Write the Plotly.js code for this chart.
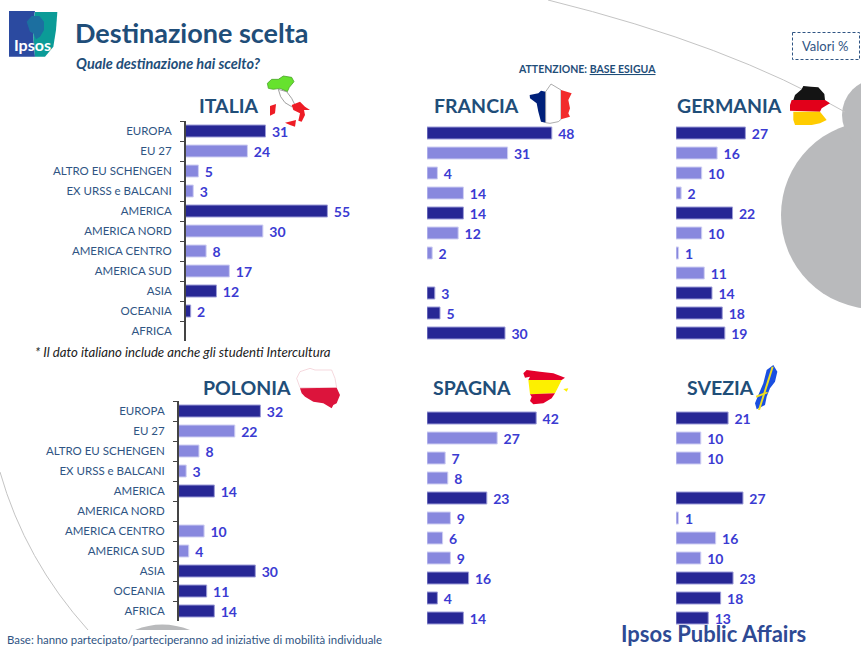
<!DOCTYPE html>
<html><head><meta charset="utf-8">
<script src="https://cdn.plot.ly/plotly-3.0.1.min.js"></script>
<style>html,body{margin:0;padding:0;background:#fff}#c{width:861px;height:646px}</style></head>
<body><div id="c"></div>
<script>
const categories=["EUROPA","EU 27","ALTRO EU SCHENGEN","EX URSS e BALCANI","AMERICA","AMERICA NORD","AMERICA CENTRO","AMERICA SUD","ASIA","OCEANIA","AFRICA"];
const italia=[31,24,5,3,55,30,8,17,12,2,null];
const francia=[48,31,4,14,14,12,2,null,3,5,30];
const germania=[27,16,10,2,22,10,1,11,14,18,19];
const polonia=[32,22,8,3,14,null,10,4,30,11,14];
const spagna=[42,27,7,8,23,9,6,9,16,4,14];
const svezia=[21,10,10,null,27,1,16,10,23,18,13];
const isMain=[true,false,false,false,true,false,false,false,true,true,true];
const DARK='#272795',LIGHT='#8888de',LABEL='#3b3bd2',NAVY='#1f4e79',TXT='#2f5483',FONT='Lato, "Open Sans", sans-serif';
const W=861,H=646;
const panels=[
 {name:'FRANCIA',vals:francia,x0:427,y0:123,scale:2.6,labels:false,tx:476,ty:105},
 {name:'ITALIA',vals:italia,x0:185.5,y0:121,scale:2.58,labels:true,tx:229,ty:105},
 {name:'GERMANIA',vals:germania,x0:676,y0:123,scale:2.57,labels:false,tx:729.5,ty:105},
 {name:'POLONIA',vals:polonia,x0:178.5,y0:401,scale:2.56,labels:true,tx:247,ty:387},
 {name:'SPAGNA',vals:spagna,x0:427,y0:408,scale:2.6,labels:false,tx:472,ty:387},
 {name:'SVEZIA',vals:svezia,x0:676,y0:408,scale:2.48,labels:false,tx:720,ty:387}
];
const traces=[],layout={
 width:W,height:H,margin:{l:0,r:0,t:0,b:0},paper_bgcolor:'#fff',plot_bgcolor:'rgba(0,0,0,0)',showlegend:false,bargap:0.4,
 font:{family:FONT,color:TXT},
 title:{text:'<b>Destinazione scelta</b>',x:75/W,xanchor:'left',xref:'paper',y:1-34/H,yanchor:'middle',yref:'paper',font:{size:27,color:NAVY,family:FONT}},
 annotations:[],shapes:[]
};
panels.forEach((p,i)=>{
 const n=i?String(i+1):'',wd=Math.min(215,W-p.x0),ht=220;
 traces.push({type:'bar',orientation:'h',y:categories,x:p.vals,xaxis:'x'+n,yaxis:'y'+n,
  marker:{color:isMain.map(m=>m?DARK:LIGHT),line:{color:isMain.map(m=>m?'#9d9dd8':'#cfcff3'),width:1}},
  text:p.vals.map(v=>v==null?'':'\u00A0'+v),textposition:'outside',cliponaxis:false,constraintext:'none',textangle:0,
  textfont:{family:FONT,size:14,color:LABEL,weight:700},hoverinfo:'skip'});
 layout['xaxis'+n]={domain:[p.x0/W,(p.x0+wd)/W],range:[0,wd/p.scale],visible:false,fixedrange:true,anchor:'y'+n};
 layout['yaxis'+n]={domain:[1-(p.y0+ht)/H,1-p.y0/H],type:'category',categoryorder:'array',categoryarray:categories,range:[10.5,-0.5],anchor:'x'+n,fixedrange:true,
  showgrid:false,zeroline:false,showticklabels:p.labels,showline:p.labels,linecolor:'#444',linewidth:1.5,ticks:p.labels?'outside':'',tickson:'boundaries',ticklen:4,tickcolor:'#444',tickwidth:1,
  tickfont:{family:FONT,size:11.5,color:TXT},ticklabelstandoff:10};
 layout.annotations.push({text:'<b>'+p.name+'</b>',xref:'paper',yref:'paper',x:p.tx/W,y:1-p.ty/H,showarrow:false,xanchor:'center',yanchor:'middle',font:{size:19.5,color:NAVY,family:FONT}});
});
function note(text,x,y,size,color,anchor,extra){layout.annotations.push(Object.assign({text,xref:'paper',yref:'paper',x:x/W,y:1-y/H,showarrow:false,xanchor:anchor||'left',yanchor:'middle',font:{size,color,family:FONT}},extra||{}));}
note('<b><i>Quale destinazione hai scelto?</i></b>',74,63,14.5,NAVY);
note('<b>ATTENZIONE: <u>BASE ESIGUA</u></b>',587,69,10.5,NAVY,'center');
note('Valori %',825,46,13,TXT,'center');
note('<i>* Il dato italiano include anche gli studenti Intercultura</i>',33,352,13.2,'#222');
note('Base: hanno partecipato/parteciperanno ad iniziative di mobilità individuale',5,639.5,11.4,TXT);
note('<b>Ipsos Public Affairs</b>',713,633,22,'#2e4a94','center');
note('<b>Ipsos</b>',32,44,16,'#fff','center');
// decorative page furniture, in pixel coordinates
const px=x=>x/W,py=y=>1-y/H;
function poly(ox,oy,pts,fill,line,below){layout.shapes.push({type:'path',xref:'paper',yref:'paper',layer:below?'below':'above',
 path:'M'+pts.map(p=>px(ox+p[0]/3)+','+py(oy+p[1]/3)).join('L')+'Z',fillcolor:fill,line:{color:line||fill,width:line?0.7:0}});}
function raw(d,fill,line,w,dash){layout.shapes.push({type:'path',xref:'paper',yref:'paper',layer:'below',path:d,fillcolor:fill||'rgba(0,0,0,0)',line:{color:line||'rgba(0,0,0,0)',width:w||0,dash:dash||'solid'}});}
const pt=(x,y)=>px(x)+','+py(y);
function circle(cx,cy,r,fill){layout.shapes.push({type:'circle',xref:'paper',yref:'paper',layer:'below',x0:px(cx-r),x1:px(cx+r),y0:py(cy+r),y1:py(cy-r),fillcolor:fill,line:{width:0}});}
const GREY='#b9babc';
circle(875,215,94,GREY);circle(878,115,36,GREY);
raw('M'+pt(548,0)+'Q'+pt(730,45)+' '+pt(845,112),null,'#c4c4c4',1);
raw('M'+pt(0,472)+'Q'+pt(25,560)+' '+pt(88,630),null,'#c4c4c4',1);
raw('M'+pt(135,630)+'Q'+pt(162,619)+' '+pt(190,630)+'Z',GREY);
raw('M'+pt(792.5,32.5)+'L'+pt(859.5,32.5)+'L'+pt(859.5,59.5)+'L'+pt(792.5,59.5)+'Z',null,TXT,1,'3px,2px');
// logo
poly(0,0,[[27,33],[105,33],[100,60],[100,110],[105,170],[27,170]],'#2b4aa0');
poly(0,0,[[105,36],[172,36],[168,90],[160,140],[135,170],[105,170],[100,110],[100,60]],'#0b9b97');
poly(0,0,[[80,65],[95,48],[118,48],[132,65],[132,90],[120,110],[108,118],[100,100],[90,95]],'#1c6fa0');
// Italia
poly(0,0,[[802,250],[815,238],[835,238],[850,228],[875,232],[882,245],[868,262],[862,275],[840,265],[820,268],[805,265]],'#66e22e','#3f9a20');
poly(0,0,[[835,268],[860,275],[875,295],[885,315],[875,320],[855,308],[842,290]],'#fff','#777');
poly(0,0,[[875,315],[900,305],[915,320],[930,330],[912,330],[915,345],[905,365],[895,362],[900,340],[880,330]],'#ee1c25');
poly(0,0,[[855,368],[888,360],[885,380],[870,375]],'#ee1c25');
poly(0,0,[[810,318],[828,312],[825,340],[810,347]],'#ee1c25');
// Francia
poly(525,80,[[14,45],[40,40],[48,32],[62,35],[62,128],[48,125],[40,95],[35,70],[15,55]],'#00207a');
poly(525,80,[[62,35],[78,12],[108,30],[108,118],[100,125],[75,130],[62,128]],'#fff','#888');
poly(525,80,[[108,30],[140,40],[130,60],[135,85],[130,100],[135,110],[108,118]],'#f22b2b');
// Germania
poly(785,80,[[30,45],[50,28],[55,18],[78,20],[100,22],[118,42],[120,60],[25,60]],'#141414');
poly(785,80,[[20,60],[120,60],[135,70],[110,85],[105,95],[15,92],[15,75]],'#e2001a');
poly(785,80,[[25,95],[105,95],[125,120],[105,130],[80,135],[30,135],[25,120]],'#ffcc00');
// Polonia
poly(290,360,[[20,55],[30,35],[60,25],[75,30],[125,30],[135,55],[140,83],[30,83]],'#fff','#f0c8d0');
poly(290,360,[[30,85],[140,83],[150,105],[140,130],[130,135],[125,145],[100,130],[70,125],[45,110],[35,100]],'#dc143c');
// Spagna
poly(520,365,[[10,25],[20,15],[60,20],[100,25],[135,38],[125,45],[25,45],[30,35],[15,38]],'#e4002b');
poly(520,365,[[25,45],[125,45],[115,65],[105,85],[30,88]],'#fdf000');
poly(520,365,[[30,88],[105,85],[95,100],[70,115],[40,118],[30,108],[35,95]],'#e4002b');
poly(520,365,[[130,72],[145,70],[140,80]],'#fdf000');
// Svezia
poly(750,360,[[50,30],[70,15],[82,35],[75,65],[60,85],[50,110],[45,135],[20,148],[15,130],[25,105],[40,70]],'#1a4fe0');
poly(750,360,[[65,20],[71,20],[30,150],[24,150]],'#f0e020');
poly(750,360,[[18,107],[52,95],[53,100],[19,113]],'#f0e020');
Plotly.newPlot('c',traces,layout,{displayModeBar:false,staticPlot:true});
</script></body></html>
